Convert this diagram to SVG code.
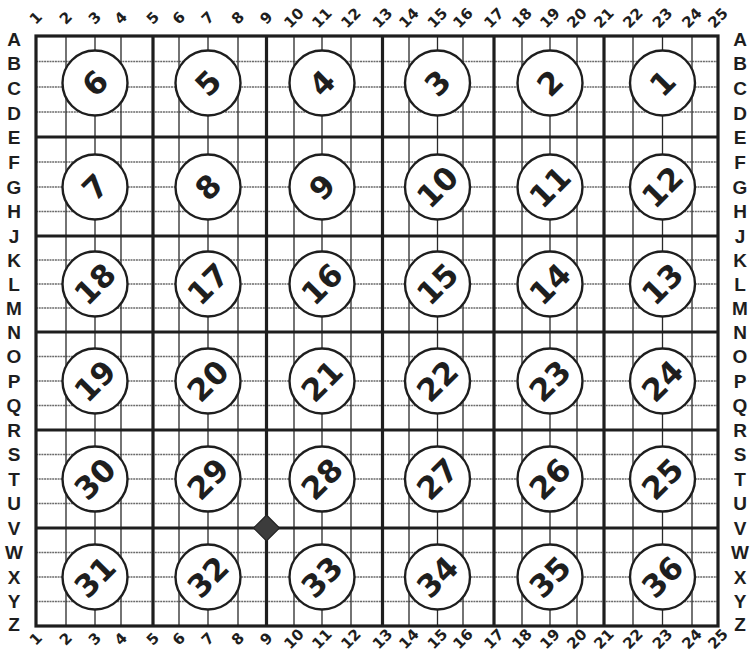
<svg xmlns="http://www.w3.org/2000/svg" width="752" height="653" viewBox="0 0 752 653">
<style>
.bg{fill:#fff}
.hthin{stroke:#6a6a6a;stroke-width:1.5;fill:none;stroke-dasharray:2 0.7}
.vthin{stroke:#2a2a2a;stroke-width:1.3;fill:none}
.thick{stroke:#1e1e1e;stroke-width:3.2;fill:none}
.cell{fill:#fff;stroke:#1e1e1e;stroke-width:2.4}
.num{font-family:"DejaVu Sans","Liberation Sans",sans-serif;font-weight:bold;font-size:31px;fill:#1e1e1e;text-anchor:middle;dominant-baseline:central}
.col{font-family:"DejaVu Sans","Liberation Sans",sans-serif;font-weight:bold;font-size:15px;fill:#1e1e1e;text-anchor:middle;dominant-baseline:central}
.row{font-family:"Liberation Sans","Arial",sans-serif;font-weight:bold;font-size:19px;fill:#1e1e1e;text-anchor:middle;dominant-baseline:central}
</style>
<rect class="bg" x="0" y="0" width="752" height="653"/>
<g id="grid">
<path class="hthin" d="M36 61.5H718M36 87H718M36 112H718M36 162H718M36 187H718M36 211.5H718M36 260H718M36 284H718M36 308H718M36 356.5H718M36 381H718M36 405.5H718M36 454.5H718M36 479H718M36 503.5H718M36 552.5H718M36 577H718M36 601.5H718"/>
<path class="vthin" d="M66 36V626M95 36V626M121 36V626M179 36V626M208 36V626M238 36V626M294 36V626M322 36V626M351 36V626M409 36V626M437.5 36V626M463 36V626M522 36V626M550 36V626M577 36V626M633 36V626M662.5 36V626M692 36V626"/>
<path class="thick" d="M153 36V626M266.5 36V626M382.5 36V626M494 36V626M604 36V626M36 137H718M36 236H718M36 332H718M36 430H718M36 528H718"/>
<rect class="thick" x="36" y="36" width="682" height="590"/>
</g>
<g id="col-labels-top">
<text class="col" transform="translate(36 18) rotate(-45)">1</text>
<text class="col" transform="translate(66 18) rotate(-45)">2</text>
<text class="col" transform="translate(95 18) rotate(-45)">3</text>
<text class="col" transform="translate(121 18) rotate(-45)">4</text>
<text class="col" transform="translate(153 18) rotate(-45)">5</text>
<text class="col" transform="translate(179 18) rotate(-45)">6</text>
<text class="col" transform="translate(208 18) rotate(-45)">7</text>
<text class="col" transform="translate(238 18) rotate(-45)">8</text>
<text class="col" transform="translate(266.5 18) rotate(-45)">9</text>
<text class="col" transform="translate(294 18) rotate(-45)">10</text>
<text class="col" transform="translate(322 18) rotate(-45)">11</text>
<text class="col" transform="translate(351 18) rotate(-45)">12</text>
<text class="col" transform="translate(382.5 18) rotate(-45)">13</text>
<text class="col" transform="translate(409 18) rotate(-45)">14</text>
<text class="col" transform="translate(437.5 18) rotate(-45)">15</text>
<text class="col" transform="translate(463 18) rotate(-45)">16</text>
<text class="col" transform="translate(494 18) rotate(-45)">17</text>
<text class="col" transform="translate(522 18) rotate(-45)">18</text>
<text class="col" transform="translate(550 18) rotate(-45)">19</text>
<text class="col" transform="translate(577 18) rotate(-45)">20</text>
<text class="col" transform="translate(604 18) rotate(-45)">21</text>
<text class="col" transform="translate(633 18) rotate(-45)">22</text>
<text class="col" transform="translate(662.5 18) rotate(-45)">23</text>
<text class="col" transform="translate(692 18) rotate(-45)">24</text>
<text class="col" transform="translate(718 18) rotate(-45)">25</text>
</g>
<g id="col-labels-bottom">
<text class="col" transform="translate(36 639) rotate(-45)">1</text>
<text class="col" transform="translate(66 639) rotate(-45)">2</text>
<text class="col" transform="translate(95 639) rotate(-45)">3</text>
<text class="col" transform="translate(121 639) rotate(-45)">4</text>
<text class="col" transform="translate(153 639) rotate(-45)">5</text>
<text class="col" transform="translate(179 639) rotate(-45)">6</text>
<text class="col" transform="translate(208 639) rotate(-45)">7</text>
<text class="col" transform="translate(238 639) rotate(-45)">8</text>
<text class="col" transform="translate(266.5 639) rotate(-45)">9</text>
<text class="col" transform="translate(294 639) rotate(-45)">10</text>
<text class="col" transform="translate(322 639) rotate(-45)">11</text>
<text class="col" transform="translate(351 639) rotate(-45)">12</text>
<text class="col" transform="translate(382.5 639) rotate(-45)">13</text>
<text class="col" transform="translate(409 639) rotate(-45)">14</text>
<text class="col" transform="translate(437.5 639) rotate(-45)">15</text>
<text class="col" transform="translate(463 639) rotate(-45)">16</text>
<text class="col" transform="translate(494 639) rotate(-45)">17</text>
<text class="col" transform="translate(522 639) rotate(-45)">18</text>
<text class="col" transform="translate(550 639) rotate(-45)">19</text>
<text class="col" transform="translate(577 639) rotate(-45)">20</text>
<text class="col" transform="translate(604 639) rotate(-45)">21</text>
<text class="col" transform="translate(633 639) rotate(-45)">22</text>
<text class="col" transform="translate(662.5 639) rotate(-45)">23</text>
<text class="col" transform="translate(692 639) rotate(-45)">24</text>
<text class="col" transform="translate(718 639) rotate(-45)">25</text>
</g>
<g id="row-labels-left">
<text class="row" x="14" y="39">A</text>
<text class="row" x="14" y="63">B</text>
<text class="row" x="14" y="88">C</text>
<text class="row" x="14" y="113">D</text>
<text class="row" x="14" y="137">E</text>
<text class="row" x="14" y="162">F</text>
<text class="row" x="14" y="187">G</text>
<text class="row" x="14" y="211.5">H</text>
<text class="row" x="14" y="236">J</text>
<text class="row" x="14" y="260">K</text>
<text class="row" x="14" y="284">L</text>
<text class="row" x="14" y="308">M</text>
<text class="row" x="14" y="332">N</text>
<text class="row" x="14" y="356.5">O</text>
<text class="row" x="14" y="381">P</text>
<text class="row" x="14" y="405.5">Q</text>
<text class="row" x="14" y="430">R</text>
<text class="row" x="14" y="454.5">S</text>
<text class="row" x="14" y="479">T</text>
<text class="row" x="14" y="503.5">U</text>
<text class="row" x="14" y="528">V</text>
<text class="row" x="14" y="552.5">W</text>
<text class="row" x="14" y="577">X</text>
<text class="row" x="14" y="601.5">Y</text>
<text class="row" x="14" y="624">Z</text>
</g>
<g id="row-labels-right">
<text class="row" x="740" y="39">A</text>
<text class="row" x="740" y="63">B</text>
<text class="row" x="740" y="88">C</text>
<text class="row" x="740" y="113">D</text>
<text class="row" x="740" y="137">E</text>
<text class="row" x="740" y="162">F</text>
<text class="row" x="740" y="187">G</text>
<text class="row" x="740" y="211.5">H</text>
<text class="row" x="740" y="236">J</text>
<text class="row" x="740" y="260">K</text>
<text class="row" x="740" y="284">L</text>
<text class="row" x="740" y="308">M</text>
<text class="row" x="740" y="332">N</text>
<text class="row" x="740" y="356.5">O</text>
<text class="row" x="740" y="381">P</text>
<text class="row" x="740" y="405.5">Q</text>
<text class="row" x="740" y="430">R</text>
<text class="row" x="740" y="454.5">S</text>
<text class="row" x="740" y="479">T</text>
<text class="row" x="740" y="503.5">U</text>
<text class="row" x="740" y="528">V</text>
<text class="row" x="740" y="552.5">W</text>
<text class="row" x="740" y="577">X</text>
<text class="row" x="740" y="601.5">Y</text>
<text class="row" x="740" y="624">Z</text>
</g>
<g id="n6"><circle class="cell" cx="95" cy="83" r="32.5"/><text class="num" transform="translate(95 83) rotate(-45)">6</text></g>
<g id="n5"><circle class="cell" cx="208" cy="83" r="32.5"/><text class="num" transform="translate(208 83) rotate(-45)">5</text></g>
<g id="n4"><circle class="cell" cx="322" cy="83" r="32.5"/><text class="num" transform="translate(322 83) rotate(-45)">4</text></g>
<g id="n3"><circle class="cell" cx="437.5" cy="83" r="32.5"/><text class="num" transform="translate(437.5 83) rotate(-45)">3</text></g>
<g id="n2"><circle class="cell" cx="550" cy="83" r="32.5"/><text class="num" transform="translate(550 83) rotate(-45)">2</text></g>
<g id="n1"><circle class="cell" cx="662.5" cy="83" r="32.5"/><text class="num" transform="translate(662.5 83) rotate(-45)">1</text></g>
<g id="n7"><circle class="cell" cx="95" cy="187" r="32.5"/><text class="num" transform="translate(95 187) rotate(-45)">7</text></g>
<g id="n8"><circle class="cell" cx="208" cy="187" r="32.5"/><text class="num" transform="translate(208 187) rotate(-45)">8</text></g>
<g id="n9"><circle class="cell" cx="322" cy="187" r="32.5"/><text class="num" transform="translate(322 187) rotate(-45)">9</text></g>
<g id="n10"><circle class="cell" cx="437.5" cy="187" r="32.5"/><text class="num" transform="translate(437.5 187) rotate(-45)">10</text></g>
<g id="n11"><circle class="cell" cx="550" cy="187" r="32.5"/><text class="num" transform="translate(550 187) rotate(-45)">11</text></g>
<g id="n12"><circle class="cell" cx="662.5" cy="187" r="32.5"/><text class="num" transform="translate(662.5 187) rotate(-45)">12</text></g>
<g id="n18"><circle class="cell" cx="95" cy="284" r="32.5"/><text class="num" transform="translate(95 284) rotate(-45)">18</text></g>
<g id="n17"><circle class="cell" cx="208" cy="284" r="32.5"/><text class="num" transform="translate(208 284) rotate(-45)">17</text></g>
<g id="n16"><circle class="cell" cx="322" cy="284" r="32.5"/><text class="num" transform="translate(322 284) rotate(-45)">16</text></g>
<g id="n15"><circle class="cell" cx="437.5" cy="284" r="32.5"/><text class="num" transform="translate(437.5 284) rotate(-45)">15</text></g>
<g id="n14"><circle class="cell" cx="550" cy="284" r="32.5"/><text class="num" transform="translate(550 284) rotate(-45)">14</text></g>
<g id="n13"><circle class="cell" cx="662.5" cy="284" r="32.5"/><text class="num" transform="translate(662.5 284) rotate(-45)">13</text></g>
<g id="n19"><circle class="cell" cx="95" cy="381" r="32.5"/><text class="num" transform="translate(95 381) rotate(-45)">19</text></g>
<g id="n20"><circle class="cell" cx="208" cy="381" r="32.5"/><text class="num" transform="translate(208 381) rotate(-45)">20</text></g>
<g id="n21"><circle class="cell" cx="322" cy="381" r="32.5"/><text class="num" transform="translate(322 381) rotate(-45)">21</text></g>
<g id="n22"><circle class="cell" cx="437.5" cy="381" r="32.5"/><text class="num" transform="translate(437.5 381) rotate(-45)">22</text></g>
<g id="n23"><circle class="cell" cx="550" cy="381" r="32.5"/><text class="num" transform="translate(550 381) rotate(-45)">23</text></g>
<g id="n24"><circle class="cell" cx="662.5" cy="381" r="32.5"/><text class="num" transform="translate(662.5 381) rotate(-45)">24</text></g>
<g id="n30"><circle class="cell" cx="95" cy="479" r="32.5"/><text class="num" transform="translate(95 479) rotate(-45)">30</text></g>
<g id="n29"><circle class="cell" cx="208" cy="479" r="32.5"/><text class="num" transform="translate(208 479) rotate(-45)">29</text></g>
<g id="n28"><circle class="cell" cx="322" cy="479" r="32.5"/><text class="num" transform="translate(322 479) rotate(-45)">28</text></g>
<g id="n27"><circle class="cell" cx="437.5" cy="479" r="32.5"/><text class="num" transform="translate(437.5 479) rotate(-45)">27</text></g>
<g id="n26"><circle class="cell" cx="550" cy="479" r="32.5"/><text class="num" transform="translate(550 479) rotate(-45)">26</text></g>
<g id="n25"><circle class="cell" cx="662.5" cy="479" r="32.5"/><text class="num" transform="translate(662.5 479) rotate(-45)">25</text></g>
<g id="n31"><circle class="cell" cx="95" cy="577" r="32.5"/><text class="num" transform="translate(95 577) rotate(-45)">31</text></g>
<g id="n32"><circle class="cell" cx="208" cy="577" r="32.5"/><text class="num" transform="translate(208 577) rotate(-45)">32</text></g>
<g id="n33"><circle class="cell" cx="322" cy="577" r="32.5"/><text class="num" transform="translate(322 577) rotate(-45)">33</text></g>
<g id="n34"><circle class="cell" cx="437.5" cy="577" r="32.5"/><text class="num" transform="translate(437.5 577) rotate(-45)">34</text></g>
<g id="n35"><circle class="cell" cx="550" cy="577" r="32.5"/><text class="num" transform="translate(550 577) rotate(-45)">35</text></g>
<g id="n36"><circle class="cell" cx="662.5" cy="577" r="32.5"/><text class="num" transform="translate(662.5 577) rotate(-45)">36</text></g>
<g id="marker-diamond"><path d="M266.5 515L279.5 528L266.5 541L253.5 528Z" fill="#3c3c3c" stroke="#222" stroke-width="1.2"/></g>
<g id="connectors"></g>
</svg>
